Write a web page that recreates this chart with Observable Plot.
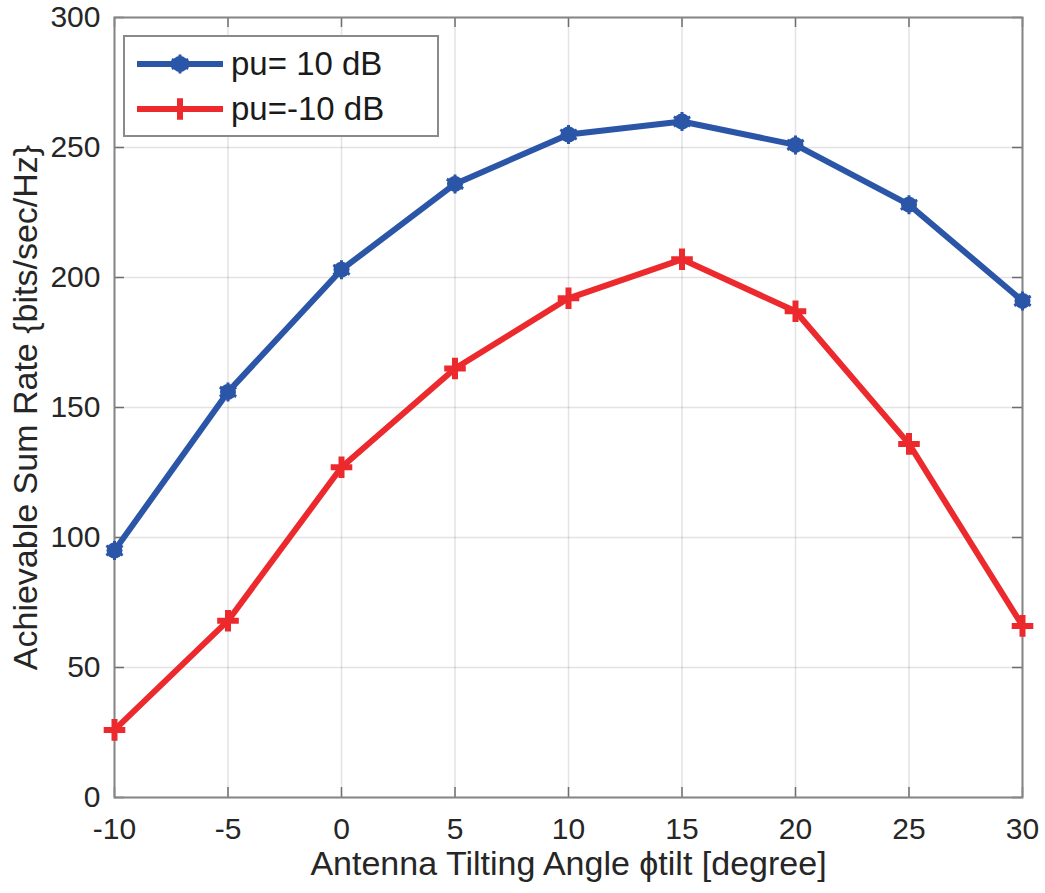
<!DOCTYPE html>
<html>
<head>
<meta charset="utf-8">
<script src="https://cdn.jsdelivr.net/npm/d3@7"></script>
<script src="https://cdn.jsdelivr.net/npm/@observablehq/plot@0.6"></script>
<style>
  html, body { margin: 0; padding: 0; background: #fff; }
  #wrap { position: relative; width: 1045px; height: 893px; font-family: "Liberation Sans", Arial, sans-serif; }
  #legend { position: absolute; left: 123px; top: 35px; width: 312px; height: 98px; border: 2px solid #8a8a8a; background: #fff; }
  .row { position: absolute; left: 0; height: 40px; display: flex; align-items: center; }
  .row span { font-size: 33px; color: #1a1a1a; margin-left: 6px; }
</style>
</head>
<body>
<div id="wrap"></div>
<script>
const angles = [-10, -5, 0, 5, 10, 15, 20, 25, 30];
const rateHigh = [95, 156, 203, 236, 255, 260, 251, 228, 191];
const rateLow = [26, 68, 127, 165, 192, 207, 187, 136, 66];
const seriesNames = ["pu= 10 dB", "pu=-10 dB"];
const seriesColors = ["#2b56a8", "#ec2a2e"];
const xTicks = [-10, -5, 0, 5, 10, 15, 20, 25, 30];
const yTicks = [0, 50, 100, 150, 200, 250, 300];
const xLabel = "Antenna Tilting Angle ϕtilt [degree]";
const yLabel = "Achievable Sum Rate {bits/sec/Hz}";

const W = 1045, H = 893;
const mL = 114, mR = 23, mT = 17, mB = 96;
const plotW = W - mL - mR, plotH = H - mT - mB;
const tick = 10;
const font = "'Liberation Sans', Arial, sans-serif";

const high = angles.map((a, i) => ({x: a, y: rateHigh[i]}));
const low = angles.map((a, i) => ({x: a, y: rateLow[i]}));

const chart = Plot.plot({
  width: W, height: H,
  marginLeft: mL, marginRight: mR, marginTop: mT, marginBottom: mB,
  style: {fontFamily: font, background: "#fff"},
  x: {domain: [-10, 30]},
  y: {domain: [0, 300]},
  marks: [
    Plot.gridX(xTicks, {stroke: "#262626", strokeOpacity: 0.13, strokeWidth: 1.5}),
    Plot.gridY(yTicks, {stroke: "#262626", strokeOpacity: 0.13, strokeWidth: 1.5}),
    Plot.ruleX(xTicks, {x: d => d, insetTop: plotH - tick, stroke: "#6e6e6e", strokeWidth: 1.5}),
    Plot.ruleX(xTicks, {x: d => d, insetBottom: plotH - tick, stroke: "#6e6e6e", strokeWidth: 1.5}),
    Plot.ruleY(yTicks, {y: d => d, insetRight: plotW - tick, stroke: "#6e6e6e", strokeWidth: 1.5}),
    Plot.ruleY(yTicks, {y: d => d, insetLeft: plotW - tick, stroke: "#6e6e6e", strokeWidth: 1.5}),
    Plot.frame({stroke: "#858585", strokeWidth: 2}),
    Plot.axisX(xTicks, {tickSize: 0, tickPadding: 20, fontSize: 30, color: "#262626",
      tickFormat: d => String(d), label: null}),
    Plot.axisY(yTicks, {tickSize: 0, tickPadding: 14, fontSize: 30, color: "#262626",
      tickFormat: d => String(d), label: null}),
    Plot.text([xLabel], {text: d => d, frameAnchor: "bottom", lineAnchor: "bottom", textAnchor: "middle", dy: 77,
      fontSize: 34, fill: "#262626"}),
    Plot.text([yLabel], {text: d => d, frameAnchor: "left", lineAnchor: "bottom", textAnchor: "middle", rotate: -90, dx: -78,
      fontSize: 34, fill: "#262626"}),
    Plot.line(high, {x: "x", y: "y", stroke: seriesColors[0], strokeWidth: 6}),
    Plot.line(low, {x: "x", y: "y", stroke: seriesColors[1], strokeWidth: 6}),
    Plot.dot(high, {x: "x", y: "y", r: 8, fill: seriesColors[0], stroke: "none"}),
    Plot.dot(high, {x: "x", y: "y", symbol: "asterisk", r: 9, stroke: seriesColors[0], strokeWidth: 3}),
    Plot.dot(low, {x: "x", y: "y", symbol: "plus", r: 7, stroke: seriesColors[1], strokeWidth: 6})
  ]
});
chart.style.position = "absolute";
chart.style.left = "0px";
chart.style.top = "0px";
const wrap = document.getElementById("wrap");
wrap.appendChild(chart);

// Legend overlay
const legend = document.createElement("div");
legend.id = "legend";
seriesNames.forEach((name, i) => {
  const row = document.createElement("div");
  row.className = "row";
  row.style.top = (i === 0 ? 7 : 52) + "px";
  const s = d3.create("svg").attr("width", 100).attr("height", 40);
  s.append("line").attr("x1", 12).attr("x2", 98).attr("y1", 20).attr("y2", 20)
    .attr("stroke", seriesColors[i]).attr("stroke-width", 6);
  const g = s.append("g").attr("transform", "translate(55,20)");
  if (i === 0) {
    g.append("circle").attr("r", 8).attr("fill", seriesColors[i]);
    g.append("path").attr("d", d3.symbol(d3.symbolAsterisk, Math.PI * 81)())
      .attr("fill", "none").attr("stroke", seriesColors[i]).attr("stroke-width", 3);
  } else {
    g.append("path").attr("d", d3.symbol(d3.symbolPlus, Math.PI * 49)())
      .attr("fill", "none").attr("stroke", seriesColors[i]).attr("stroke-width", 6);
  }
  row.appendChild(s.node());
  const t = document.createElement("span");
  t.textContent = name;
  row.appendChild(t);
  legend.appendChild(row);
});
wrap.appendChild(legend);
</script>
</body>
</html>
